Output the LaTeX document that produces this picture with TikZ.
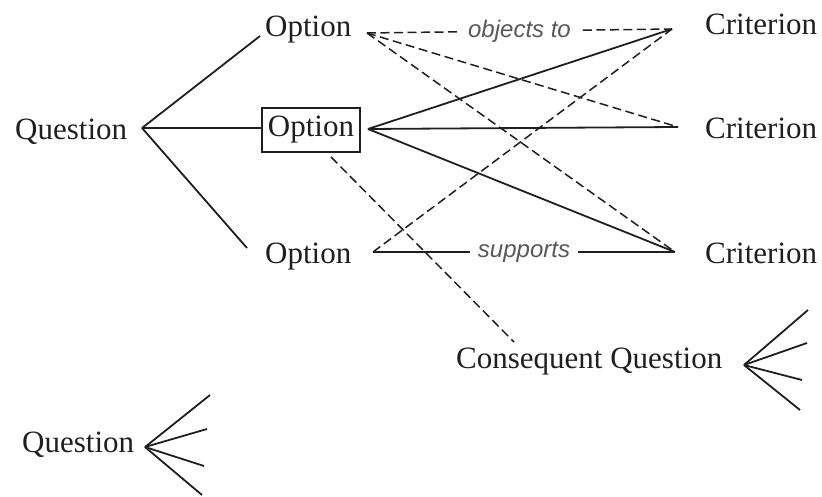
\documentclass[tikz,border=0pt]{standalone}
\usepackage{fontspec}
\setmainfont{Liberation Serif}
\newfontfamily\labelfont{Liberation Sans}
\begin{document}
\begin{tikzpicture}[x=1pt,y=-1pt,
  lbl/.style={font=\fontsize{31}{31}\selectfont, text=black!88, inner sep=0pt, anchor=base west},
  boxed/.style={draw=black!88, line width=1.8pt, minimum width=98pt, minimum height=44pt, inner sep=0pt, font=\fontsize{31}{31}\selectfont, text=black!88},
  link/.style={draw=black!88, line width=1.8pt},
  dlink/.style={draw=black!88, line width=1.5pt, dash pattern=on 9pt off 4.5pt},
  tag/.style={font=\labelfont\itshape\fontsize{24}{24}\selectfont, text=black!65, fill=white, inner xsep=8pt, inner ysep=2pt}
]
\useasboundingbox (0,0) rectangle (822,497);

% text nodes
\node[lbl] (q1) at (15,140) {Question};
\node[lbl] (o1) at (265,37) {Option};
\node[boxed] (o2) at (311,130) {Option};
\node[lbl] (o3) at (265,263) {Option};
\node[lbl] (c1) at (705,35) {Criterion};
\node[lbl] (c2) at (705,139) {Criterion};
\node[lbl] (c3) at (705,264) {Criterion};
\node[lbl] (cq) at (456,368) {Consequent Question};
\node[lbl] (q2) at (22,452) {Question};

% junction points
\coordinate (q1j) at (142,128);
\coordinate (o1L) at (260,36);
\coordinate (o1R) at (367,33);
\coordinate (o2R) at (368,129);
\coordinate (o2B) at (331,157);
\coordinate (o3L) at (247,248);
\coordinate (o3R) at (373,252);
\coordinate (c1L) at (672,29);
\coordinate (c2L) at (678,127);
\coordinate (c3L) at (675,252);
\coordinate (cqT) at (514,342);
\coordinate (cqj) at (744,365);
\coordinate (cqa) at (808,310);
\coordinate (cqb) at (807,343);
\coordinate (cqc) at (802,380);
\coordinate (cqd) at (800,410);
\coordinate (q2j) at (145,447);
\coordinate (q2a) at (210,395);
\coordinate (q2b) at (207,429);
\coordinate (q2c) at (204,466);
\coordinate (q2d) at (202,495);

% question to options
\draw[link] (q1j) -- (o1L);
\draw[link] (q1j) -- (o2.west |- q1j);
\draw[link] (q1j) -- (o3L);

% option 1 (dashed)
\draw[dlink] (o1R) -- node[tag] {objects to} (c1L);
\draw[dlink] (o1R) -- (c2L);
\draw[dlink] (o1R) -- (c3L);

% option 2 (solid)
\draw[link] (o2R) -- (c1L);
\draw[link] (o2R) -- (c2L);
\draw[link] (o2R) -- (c3L);
\draw[dlink] (o2B) -- (cqT);

% option 3
\draw[dlink] (o3R) -- (c1L);
\draw[link] (o3R) -- node[tag] {supports} (c3L);

% fans
\foreach \e in {cqa,cqb,cqc,cqd} \draw[link] (cqj) -- (\e);
\foreach \e in {q2a,q2b,q2c,q2d} \draw[link] (q2j) -- (\e);
\end{tikzpicture}
\end{document}
